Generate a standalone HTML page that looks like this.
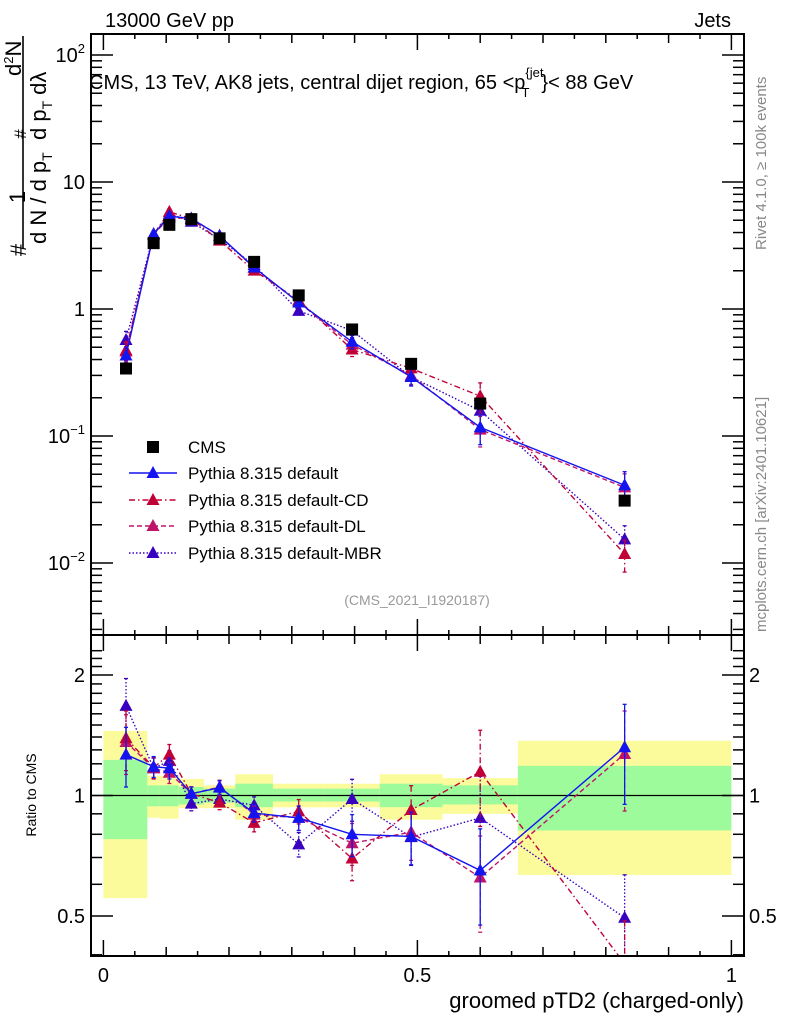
<!DOCTYPE html>
<html><head><meta charset="utf-8"><style>
html,body{margin:0;padding:0;background:#fff;}
svg{display:block;font-family:"Liberation Sans",sans-serif;}
</style></head><body>
<svg id="chart" width="786" height="1024" viewBox="0 0 786 1024" xmlns="http://www.w3.org/2000/svg">
<g id="bands"></g>
<g id="marks"></g>
<g id="axes"></g>
<text x="105" y="27" font-size="20">13000 GeV pp</text>
<text x="731" y="27" font-size="20" text-anchor="end">Jets</text>
<text x="89" y="89" font-size="20">CMS, 13 TeV, AK8 jets, central dijet region, 65 &lt;p<tspan font-size="13" dy="-12">{jet</tspan><tspan font-size="13" dx="-22" dy="20">T</tspan><tspan dy="-8" dx="12">}&lt; 88 GeV</tspan></text>
<text transform="translate(766,250) rotate(-90)" font-size="15" fill="#888">Rivet 4.1.0, ≥ 100k events</text>
<text transform="translate(766,632) rotate(-90)" font-size="15" fill="#888">mcplots.cern.ch [arXiv:2401.10621]</text>
<text x="417" y="605" font-size="14" fill="#999" text-anchor="middle">(CMS_2021_I1920187)</text>
<g font-size="22">
<text transform="translate(26,250) rotate(-90)" text-anchor="middle">#</text>
<text transform="translate(25,197) rotate(-90)" text-anchor="middle">1</text>
<line x1="23" y1="36" x2="23" y2="248" stroke="#000" stroke-width="1.6"/>
<text transform="translate(46,244) rotate(-90)">d N / d p<tspan font-size="14" dy="6">T</tspan></text>
<text transform="translate(26,134) rotate(-90)" text-anchor="middle" font-size="17">#</text>
<text transform="translate(21,76) rotate(-90)">d<tspan font-size="13" dy="-8">2</tspan><tspan dy="8">N</tspan></text>
<text transform="translate(46,140) rotate(-90)">d p<tspan font-size="14" dy="6">T</tspan><tspan dy="-6" dx="6">dλ</tspan></text>
</g>
<text transform="translate(36,795) rotate(-90)" font-size="14" text-anchor="middle">Ratio to CMS</text>
<text x="744" y="1008" font-size="22" text-anchor="end">groomed pTD2 (charged-only)</text>
<g id="legend"></g>
</svg>
<script>
const binEdges=[0,0.07,0.09,0.12,0.16,0.21,0.27,0.35,0.44,0.54,0.66,1.0];
const xCenters=[0.036,0.080,0.105,0.140,0.185,0.240,0.311,0.396,0.490,0.600,0.830];
const cmsValues=[0.34,3.3,4.6,5.1,3.6,2.35,1.28,0.69,0.37,0.18,0.031];
const yellowHi=[1.45,1.12,1.12,1.10,1.06,1.13,1.07,1.07,1.13,1.105,1.37];
const yellowLo=[0.554,0.88,0.875,0.93,0.93,0.87,0.934,0.934,0.87,0.90,0.633];
const greenHi=[1.227,1.06,1.06,1.05,1.04,1.07,1.04,1.04,1.07,1.06,1.186];
const greenLo=[0.778,0.94,0.94,0.95,0.96,0.935,0.966,0.966,0.935,0.95,0.818];
const ratioDefault=[1.265,1.18,1.17,1.01,1.046,0.904,0.879,0.80,0.79,0.65,1.32];
const ratioCD=[1.39,1.175,1.265,1.01,0.96,0.854,0.913,0.696,0.92,1.146,0.38];
const ratioDL=[1.36,1.17,1.14,1.01,1.05,0.896,0.88,0.76,0.81,0.624,1.27];
const ratioMBR=[1.675,1.17,1.22,0.954,0.98,0.945,0.755,0.98,0.787,0.879,0.495];
const relErr=[0.17,0.06,0.06,0.04,0.04,0.05,0.07,0.12,0.15,0.27,0.28];
const xTickLabels=["0","0.5","1"];
const mainTickLabels=["10^-2","10^-1","1","10","10^2"];
const ratioTickLabels=["0.5","1","2"];

const NS="http://www.w3.org/2000/svg";
const L=91,R=744,MT=34,MB=635,RB=956;
const X=v=>103.4+v*628;
const YM=v=>309-Math.log10(v)*127;
const YR=v=>795.5-Math.log2(v)*120.5;
function mk(tag,attrs,parent){const e=document.createElementNS(NS,tag);for(const k in attrs)e.setAttribute(k,attrs[k]);parent.appendChild(e);return e;}
const bands=document.getElementById('bands'),marks=document.getElementById('marks'),axes=document.getElementById('axes'),legend=document.getElementById('legend');

for(let i=0;i<xCenters.length;i++){
  const x0=X(binEdges[i]),x1=X(binEdges[i+1]);
  const yb=mk('rect',{x:x0,y:YR(yellowHi[i]),width:x1-x0,height:YR(yellowLo[i])-YR(yellowHi[i]),fill:'#fbfb9b'},bands);
  
  
  const gb=mk('rect',{x:x0,y:YR(greenHi[i]),width:x1-x0,height:YR(greenLo[i])-YR(greenHi[i]),fill:'#9dfb9b'},bands);
  
  
}
mk('line',{x1:L,y1:YR(1),x2:R,y2:YR(1),stroke:'#000','stroke-width':1.3},bands);

const series=[
 {name:'default',ratio:ratioDefault,color:'#1414f0',dash:'',label:'Pythia 8.315 default'},
 {name:'default-cd',ratio:ratioCD,color:'#c00036',dash:'6,3,1.5,3',label:'Pythia 8.315 default-CD'},
 {name:'default-dl',ratio:ratioDL,color:'#c0146a',dash:'5,3',label:'Pythia 8.315 default-DL'},
 {name:'default-mbr',ratio:ratioMBR,color:'#3a00c0',dash:'1.5,2',label:'Pythia 8.315 default-MBR'}
];
function tri(x,y,c,parent){return mk('path',{d:`M${x},${y-7}L${x+6.5},${y+5}L${x-6.5},${y+5}Z`,fill:c},parent);}

const defs=mk('defs',{},marks);
const cp=mk('clipPath',{id:'rclip'},defs);mk('rect',{x:L,y:MB,width:R-L,height:RB-MB},cp);
const cpm=mk('clipPath',{id:'mclip'},defs);mk('rect',{x:L,y:MT,width:R-L,height:MB-MT},cpm);
const gm=mk('g',{'clip-path':'url(#mclip)'},marks);
const gr=mk('g',{'clip-path':'url(#rclip)'},marks);

series.slice().reverse().forEach(s=>{
  const mainVals=cmsValues.map((c,i)=>c*s.ratio[i]);
  const pm=mk('polyline',{points:mainVals.map((v,i)=>X(xCenters[i])+','+YM(v)).join(' '),fill:'none',stroke:s.color,'stroke-width':1.4,'stroke-dasharray':s.dash},gm);
  
  
  const pr=mk('polyline',{points:s.ratio.map((v,i)=>X(xCenters[i])+','+YR(v)).join(' '),fill:'none',stroke:s.color,'stroke-width':1.4,'stroke-dasharray':s.dash},gr);
  
  
  for(let i=0;i<xCenters.length;i++){
    const x=X(xCenters[i]);
    const mv=mainVals[i],rv=s.ratio[i],e=relErr[i];
    [[gm,YM(mv*(1+e)),YM(mv*(1-e))],[gr,YR(rv*(1+e)),YR(rv*(1-e))]].forEach(([g,y1,y2])=>{
      mk('line',{x1:x,y1:y1,x2:x,y2:y2,stroke:s.color,'stroke-width':1.3,'stroke-dasharray':s.dash},g);
      mk('line',{x1:x-2,y1:y1,x2:x+2,y2:y1,stroke:s.color,'stroke-width':1.3},g);
      mk('line',{x1:x-2,y1:y2,x2:x+2,y2:y2,stroke:s.color,'stroke-width':1.3},g);
    });
    const t1=tri(x,YM(mv),s.color,gm);
    
    
    const t2=tri(x,YR(rv),s.color,gr);
    
    
  }
});
for(let i=0;i<xCenters.length;i++){
  const sq=mk('rect',{x:X(xCenters[i])-6,y:YM(cmsValues[i])-6,width:12,height:12,fill:'#000'},gm);
  
  
}
[[MT,MB],[MB,RB]].forEach(([t,b])=>mk('rect',{x:L,y:t,width:R-L,height:b-t,fill:'none',stroke:'#000','stroke-width':2},axes));
for(let k=0;k<=20;k++){const v=k*0.05,x=X(v);const len=k%10==0?16:(k%2==0?9:5);
  [[MT,1],[MB,-1],[MB,1],[RB,-1]].forEach(([y,d])=>mk('line',{x1:x,y1:y,x2:x,y2:y+d*len,stroke:'#000','stroke-width':1.5},axes));}
xTickLabels.forEach(t=>{const e=mk('text',{x:X(parseFloat(t)),y:982,'font-size':20,'text-anchor':'middle'},axes);e.textContent=t;
  
  });
for(let d=-3;d<=2;d++)for(let m=1;m<=9;m++){const v=m*Math.pow(10,d),y=YM(v);if(y<MT||y>MB)continue;const len=m==1?22:11;
  mk('line',{x1:L,y1:y,x2:L+len,y2:y,stroke:'#000','stroke-width':1.5},axes);mk('line',{x1:R,y1:y,x2:R-len,y2:y,stroke:'#000','stroke-width':1.5},axes);}
mainTickLabels.forEach(t=>{const p=t.split('^');const v=p.length>1?Math.pow(10,+p[1]):+t;const y=YM(v)+7;
  const e=mk('text',{x:85,y:y,'font-size':20,'text-anchor':'end'},axes);
  if(p.length>1){e.innerHTML=p[0]+'<tspan font-size="13" dy="-9">'+p[1].replace('-','−')+'</tspan>';}else e.textContent=t;
  
  });
for(let k=4;k<=23;k++){const v=k/10;const y=YR(v);if(y<MB||y>RB)continue;const major=(v==0.5||v==1||v==2);const len=major?22:11;
  mk('line',{x1:L,y1:y,x2:L+len,y2:y,stroke:'#000','stroke-width':1.5},axes);mk('line',{x1:R,y1:y,x2:R-len,y2:y,stroke:'#000','stroke-width':1.5},axes);}
ratioTickLabels.forEach(t=>{const y=YR(+t)+7;
  const e=mk('text',{x:85,y:y,'font-size':20,'text-anchor':'end'},axes);e.textContent=t;
  
  
  const e2=mk('text',{x:749,y:y,'font-size':20},axes);e2.textContent=t;
  
  });
const ly=[447,473,500,526,553];
const cmsSq=mk('rect',{x:147,y:ly[0]-6,width:12,height:12,fill:'#000'},legend);


const lt=mk('text',{x:188,y:ly[0]+6,'font-size':17},legend);lt.textContent='CMS';


series.forEach((s,i)=>{const y=ly[i+1];
  mk('line',{x1:129,y1:y,x2:177,y2:y,stroke:s.color,'stroke-width':1.5,'stroke-dasharray':s.dash},legend);
  tri(153,y,s.color,legend);
  const t=mk('text',{x:188,y:y+6,'font-size':17},legend);t.textContent=s.label;
  
  });
</script>
</body></html>
